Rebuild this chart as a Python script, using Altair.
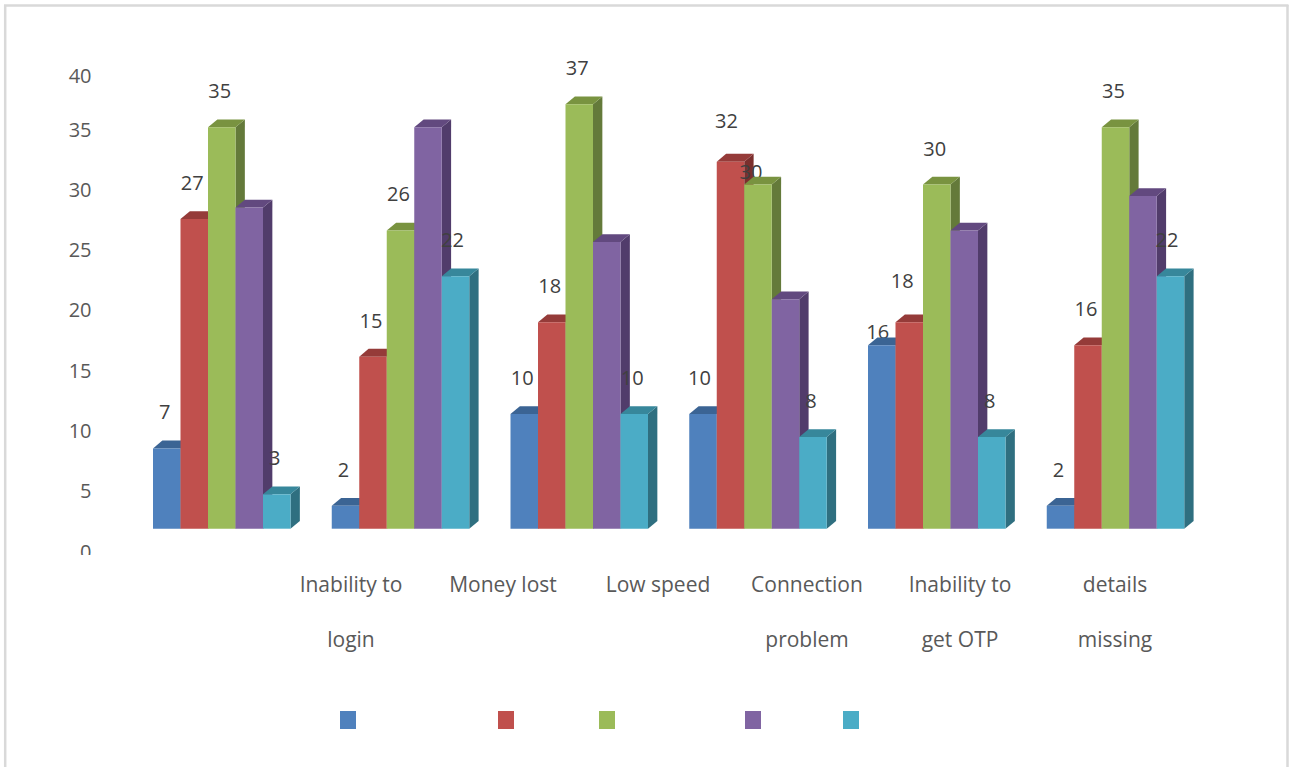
import altair as alt
import pandas as pd

# Chart values, one list per series, six groups each
series_a = [7, 2, 10, 10, 16, 2]
series_b = [27, 15, 18, 32, 18, 16]
series_c = [35, 26, 37, 30, 30, 35]
series_d = [28, 35, 25, 20, 26, 29]
series_e = [3, 22, 10, 8, 8, 22]
category_labels = ["Inability to\nlogin", "Money lost", "Low speed",
                   "Connection\nproblem", "Inability to\nget OTP", "details\nmissing"]
tick_values = [0, 5, 10, 15, 20, 25, 30, 35, 40]

FRONT = ["#4F81BD", "#C0504D", "#9BBB59", "#8064A2", "#4BACC6"]
TOP = ["#3B6494", "#953B39", "#799340", "#62497F", "#37879B"]
SIDE = ["#2F5177", "#7A2F2D", "#647A3A", "#513C6B", "#2F6F80"]
SERIES = [series_a, series_b, series_c, series_d, series_e]
LABELLED = [True, True, True, False, True]

# Hand-placed data labels: pixel shifts from the default spot above each bar
LABEL_SHIFT_X = [
    [0, 0, 0, -1.5, -2, 0],
    [0, 0, 0, -2, -5, 0],
    [0, 0, 0, -5, 0, 0],
    [0, 0, 0, 0, 0, 0],
    [0, -1, 0, 0, 0, -1.5],
]
LABEL_SHIFT_Y = [
    [0, 0, 0, 0, 23, 0],
    [0, 0, 0, -5, -5, 0],
    [0, 0, 0, 23, 0, 0],
    [0, 0, 0, 0, 0, 0],
    [0, 0, 0, 0, 0, 0],
]

GROUP_STEP = 6.5   # slots from one group to the next
DEPTH_X = 0.34     # extrusion, in bar widths
DEPTH_Y = 0.68     # extrusion, in value units
PX_PER_SLOT = 27.5
PX_PER_UNIT = 11.47
FONT = "Open Sans"

W, H = 1289, 767
x_scale = alt.Scale(domain=[0, 39], range=[153, 153 + 39 * PX_PER_SLOT], nice=False, zero=False)
bar_y = alt.Scale(domain=[0, 40], range=[528.7, 528.7 - 40 * PX_PER_UNIT], nice=False, zero=False)


def xq(field):
    return alt.X(f"{field}:Q", scale=x_scale, axis=None)


def yq(field):
    return alt.Y(f"{field}:Q", scale=bar_y, axis=None, stack=None)


def faces(values, s):
    front, side, top = [], [], []
    for g, v in enumerate(values):
        l = g * GROUP_STEP + s
        r = l + 1
        front.append({"l": l, "r": r, "v": v, "b": 0})
        side += [
            {"g": g, "x": r, "y": v, "y2": 0},
            {"g": g, "x": r + DEPTH_X, "y": v + DEPTH_Y, "y2": DEPTH_Y},
        ]
        top += [
            {"g": g, "x": l, "y": v, "y2": v},
            {"g": g, "x": l + DEPTH_X, "y": v + DEPTH_Y, "y2": v},
            {"g": g, "x": r, "y": v + DEPTH_Y, "y2": v},
            {"g": g, "x": r + DEPTH_X, "y": v + DEPTH_Y, "y2": v + DEPTH_Y},
        ]
    return pd.DataFrame(front), pd.DataFrame(side), pd.DataFrame(top)


def label_table(values, s):
    rows = []
    for g, v in enumerate(values):
        rows.append({
            "c": g * GROUP_STEP + s + 0.5 + LABEL_SHIFT_X[s][g] / PX_PER_SLOT,
            "p": v - LABEL_SHIFT_Y[s][g] / PX_PER_UNIT,
            "v": v,
        })
    return pd.DataFrame(rows)


layers = []

# Value axis: its labels sit on their own scale, independent of the bars
axis_layer = alt.Chart(pd.DataFrame({"tick": tick_values})).mark_point(opacity=0).encode(
    y=alt.Y(
        "tick:Q",
        scale=alt.Scale(domain=[0, 35, 40], range=[552, 130, 76], nice=False, zero=False),
        axis=alt.Axis(
            values=tick_values, title=None, domain=False, ticks=False, grid=False,
            labelFont=FONT, labelFontSize=20, labelColor="#595959",
            labelPadding=0, offset=-91, orient="left",
        ),
    )
)
layers.append(axis_layer)

# Mask that trims the bottom of the lowest axis label
layers.append(
    alt.Chart(alt.Data(values=[{}])).mark_rect(color="white").encode(
        x=alt.value(60), x2=alt.value(110), y=alt.value(555), y2=alt.value(565)
    )
)

# Extruded bars, series by series; each series' labels lie beneath its own
# faces but above the series before it
for s, values in enumerate(SERIES):
    if LABELLED[s]:
        layers.append(
            alt.Chart(label_table(values, s)).mark_text(
                font=FONT, fontSize=20, color="#404040", dx=-2, dy=-35, baseline="middle"
            ).encode(x=xq("c"), y=yq("p"), text=alt.Text("v:Q"))
        )
    front, side, top = faces(values, s)
    layers.append(
        alt.Chart(side).mark_area(color=SIDE[s], opacity=1, strokeWidth=0).encode(
            x=xq("x"), y=yq("y"), y2="y2:Q", detail="g:N"
        )
    )
    layers.append(
        alt.Chart(top).mark_area(color=TOP[s], opacity=1, strokeWidth=0).encode(
            x=xq("x"), y=yq("y"), y2="y2:Q", detail="g:N"
        )
    )
    layers.append(
        alt.Chart(front).mark_rect(color=FRONT[s]).encode(
            x=xq("l"), x2="r:Q", y=yq("v"), y2="b:Q"
        )
    )

# Category captions, placed independently of the bar groups
caption_centres = [351, 503, 658, 807, 960, 1115]
for text, cx in zip(category_labels, caption_centres):
    layers.append(
        alt.Chart(alt.Data(values=[{"t": text}])).mark_text(
            font=FONT, fontSize=21, color="#595959", lineBreak="\n", lineHeight=55,
            baseline="middle", align="center",
        ).encode(x=alt.value(cx), y=alt.value(586), text="t:N")
    )

# Colour keys
key_lefts = [340, 498, 599, 745, 843]
for left, colour in zip(key_lefts, FRONT):
    layers.append(
        alt.Chart(alt.Data(values=[{}])).mark_rect(color=colour).encode(
            x=alt.value(left), x2=alt.value(left + 16), y=alt.value(711), y2=alt.value(729)
        )
    )

# Outer frame: left, top and right edges only
for x1, x2, y1, y2 in [(5.2, 5.2, 5, 767), (4, 1288.5, 5.5, 5.5), (1287.5, 1287.5, 5, 767)]:
    layers.append(
        alt.Chart(alt.Data(values=[{}])).mark_rule(color="#D9D9D9", strokeWidth=2.5).encode(
            x=alt.value(x1), x2=alt.value(x2), y=alt.value(y1), y2=alt.value(y2)
        )
    )

chart = (
    alt.layer(*layers)
    .resolve_scale(y="independent")
    .properties(width=W, height=H, padding=0, autosize=alt.AutoSizeParams(type="none"), background="white")
    .configure_view(stroke=None)
)

chart.save("out.html", embed_options={"renderer": "svg", "actions": False})
